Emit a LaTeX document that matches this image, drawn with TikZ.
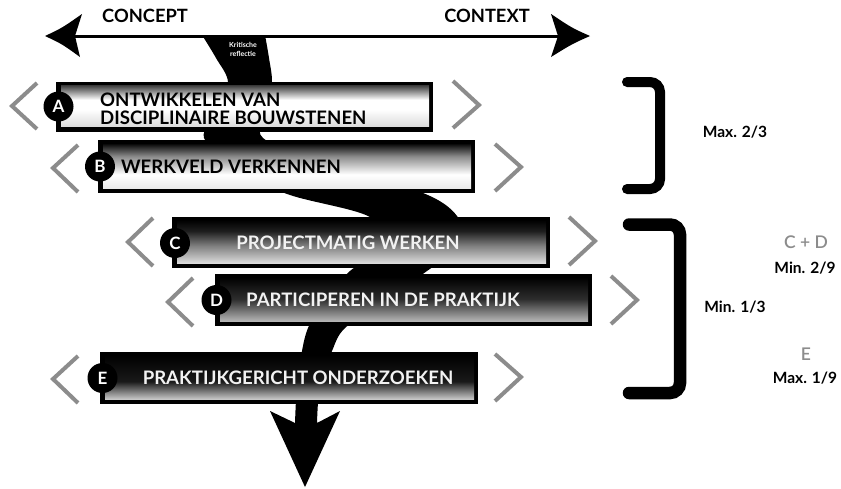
\documentclass[tikz,border=0pt]{standalone}
\usepackage{fontspec}
\setmainfont{Lato}
\newfontfamily\semib{Lato Semibold}
\definecolor{chev}{HTML}{8C8C8C}
\definecolor{softwhite}{HTML}{F2F2F2}
\pgfdeclareverticalshading{shA}{100bp}{color(0bp)=(black!14); color(25bp)=(black!14); color(45bp)=(white); color(57bp)=(white); color(75bp)=(black!78); color(100bp)=(black!78)}
\pgfdeclareverticalshading{shB}{100bp}{color(0bp)=(black!8); color(25bp)=(black!8); color(40bp)=(white); color(60bp)=(black!45); color(75bp)=(black); color(100bp)=(black)}
\pgfdeclareverticalshading{shC}{100bp}{color(0bp)=(black!14); color(25bp)=(black!14); color(45bp)=(black!50); color(62bp)=(black!88); color(75bp)=(black); color(100bp)=(black)}
\pgfdeclareverticalshading{shD}{100bp}{color(0bp)=(black!28); color(25bp)=(black!28); color(50bp)=(black!82); color(75bp)=(black); color(100bp)=(black)}
\pgfdeclareverticalshading{shE}{100bp}{color(0bp)=(black!22); color(25bp)=(black!22); color(45bp)=(black!90); color(75bp)=(black); color(100bp)=(black)}
\begin{document}
\begin{tikzpicture}[x=1pt,y=-1pt,
  boxtext/.style={font=\fontsize{18.6}{18}\selectfont\bfseries, inner sep=0pt},
  chevron/.style={draw=chev, line width=4pt},
  badge/.style={circle, fill=black, minimum size=30pt, inner sep=0pt, text=white, font=\fontsize{17}{17}\selectfont\bfseries},
  bracketline/.style={line width=10pt, line cap=round, rounded corners=10pt},
  sidetext/.style={font=\fontsize{15.5}{16}\selectfont\bfseries, inner sep=0pt},
  graytext/.style={font=\fontsize{17.5}{18}\selectfont\semib, text=chev, inner sep=0pt},
  axistext/.style={font=\fontsize{18.3}{18}\selectfont\bfseries, inner sep=0pt}]
\useasboundingbox (0,0) rectangle (841,488);

% the black swoosh with its arrowhead
\fill plot[smooth, tension=0.55] coordinates {(202,35) (216,58) (228,82) (219,112) (204,138) (240,172) (290,195) (368,216) (388,244) (350,271) (322,303) (308,328) (302,351) (297,385) (295,423)}
  -- (270,411) -- (305,487) -- (340,411) -- (317,423)
  -- plot[smooth, tension=0.55] coordinates {(317,423) (320,385) (332,351) (345,328) (385,300) (427,271) (462,244) (457,216) (423,193) (330,165) (263,138) (268,110) (272,82) (269,58) (265,35)}
  -- cycle;

% horizontal double arrow
\coordinate (hl) at (75,36);
\coordinate (hr) at (558,36);
\draw[line width=3pt] (hl) -- (hr);
\fill (45,36) .. controls (62,28) .. (82,14) -- (hl) -- (80,57) .. controls (62,44) .. (45,36) -- cycle;
\fill (590,36) .. controls (572,28) .. (551,14) -- (hr) -- (551,57) .. controls (572,44) .. (590,36) -- cycle;
\node[axistext] (concept) at (145,16) {CONCEPT};
\node[axistext] (context) at (487,16) {CONTEXT};
\node[font=\fontsize{7}{9}\selectfont\bfseries, text=white, align=center, inner sep=0pt] (krit) at (243,49.5) {Kritische\\reflectie};

% boxes
\fill (56,82) rectangle (433,132);
\shade[shading=shA] (61,85) rectangle (429,126);
\fill (98,140) rectangle (475,193);
\shade[shading=shB] (103,143) rectangle (471,188);
\fill (172,217) rectangle (550,268);
\shade[shading=shC] (177,220) rectangle (546,263);
\fill (215,274) rectangle (592,326);
\shade[shading=shD] (220,277) rectangle (588,321.5);
\fill (100,352) rectangle (478,404);
\shade[shading=shE] (105,355) rectangle (474,399);

% chevrons
\draw[chevron] (37,83) -- (12,106) -- (37,129);
\draw[chevron] (453,81) -- (479,105) -- (453,128);
\draw[chevron] (78,145) -- (53,168) -- (78,192);
\draw[chevron] (495,144) -- (521,167) -- (495,191);
\draw[chevron] (153,218) -- (128,242) -- (153,266);
\draw[chevron] (569,217) -- (595,241) -- (569,265);
\draw[chevron] (193,278) -- (168,302) -- (193,326);
\draw[chevron] (611,276) -- (637,300) -- (611,324);
\draw[chevron] (78,356) -- (53,379) -- (78,403);
\draw[chevron] (495,354) -- (521,377) -- (495,401);

% badges
\node[badge] (cA) at (58.5,106.5) {A};
\node[badge] (cB) at (100,166.5) {B};
\node[badge] (cC) at (175,243) {C};
\node[badge] (cD) at (216.5,300) {D};
\node[badge] (cE) at (102.5,378) {E};

% box texts
\node[boxtext, anchor=west, align=left] (tA) at (100,108.5) {ONTWIKKELEN VAN\\DISCIPLINAIRE BOUWSTENEN};
\node[boxtext, anchor=base] (tB) at (231,173.5) {WERKVELD VERKENNEN};
\node[boxtext, anchor=base, text=softwhite] (tC) at (348,249.5) {PROJECTMATIG WERKEN};
\node[boxtext, anchor=base, text=softwhite] (tD) at (383,306.5) {PARTICIPEREN IN DE PRAKTIJK};
\node[boxtext, anchor=base, text=softwhite] (tE) at (298,384.5) {PRAKTIJKGERICHT ONDERZOEKEN};

% brackets
\draw[bracketline] (627,82) -- (660,82) -- (660,189) -- (627,189);
\draw[bracketline, line width=12.5pt] (629,224.5) -- (680,224.5) -- (680,393) -- (629,393);

% side texts
\node[sidetext] (max23) at (735,132) {Max. 2/3};
\node[sidetext] (min13) at (735,307) {Min. 1/3};
\node[graytext] (cd) at (806,242) {C + D};
\node[sidetext] (min29) at (805,268) {Min. 2/9};
\node[graytext] (e) at (806,354) {E};
\node[sidetext] (max19) at (805,378) {Max. 1/9};
\end{tikzpicture}
\end{document}
